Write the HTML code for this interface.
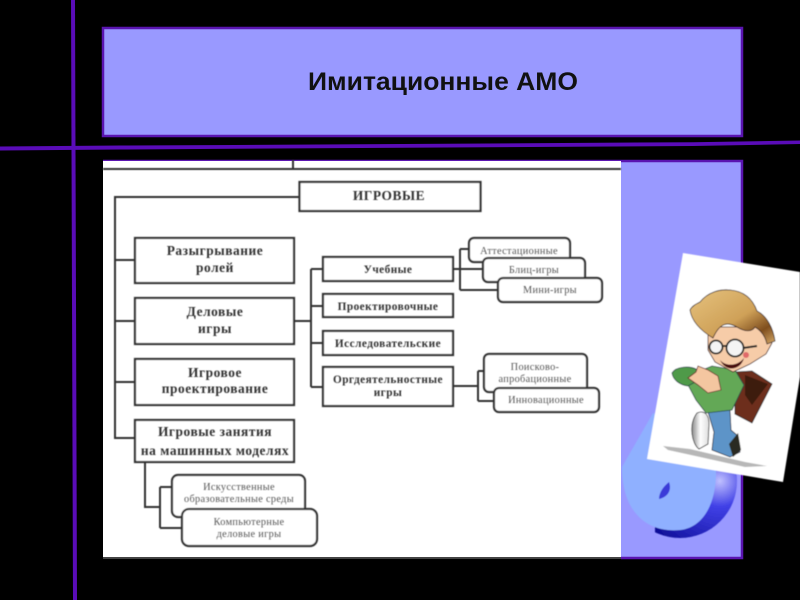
<!DOCTYPE html>
<html><head><meta charset="utf-8"><style>
html,body{margin:0;padding:0;background:#000;width:800px;height:600px;overflow:hidden}
svg{display:block}
.b{font:bold 13.400px "Liberation Serif","DejaVu Serif",serif;fill:#333;text-anchor:middle;letter-spacing:.55px}
.m{font:bold 11.300px "Liberation Serif","DejaVu Serif",serif;fill:#333;text-anchor:middle;letter-spacing:.45px}
.r{font:10.300px "Liberation Serif","DejaVu Serif",serif;fill:#555;text-anchor:middle;letter-spacing:.33px}
</style></head><body>
<svg width="800" height="600" viewBox="0 0 800 600" xmlns="http://www.w3.org/2000/svg">
<defs>
<linearGradient id="hair" x1="0" y1="0" x2="1" y2="1"><stop offset="0" stop-color="#e6c27e"/><stop offset=".55" stop-color="#cfa158"/><stop offset=".8" stop-color="#7f4e1e"/><stop offset="1" stop-color="#d6aa68"/></linearGradient>
<radialGradient id="blue" cx=".85" cy=".5" r=".75"><stop offset="0" stop-color="#c0c0ff"/><stop offset=".3" stop-color="#4040e6"/><stop offset="1" stop-color="#0a0a90"/></radialGradient>
<linearGradient id="shoe" x1="0" y1="0" x2="1" y2="0"><stop offset="0" stop-color="#888"/><stop offset=".5" stop-color="#fff"/><stop offset="1" stop-color="#ddd"/></linearGradient>
<filter id="bl" x="-5%" y="-5%" width="110%" height="110%"><feGaussianBlur stdDeviation=".45"/></filter>
<clipPath id="dk"><rect x="655" y="420" width="100" height="130"/></clipPath>
</defs>
<rect width="800" height="600" fill="#000"/>
<rect x="103" y="28" width="639" height="108" fill="#9999ff" stroke="#5a14b0" stroke-width="2.5"/>
<text x="443" y="90" font-family="Liberation Sans, sans-serif" font-weight="bold" font-size="25" text-anchor="middle" fill="#111" textLength="270" lengthAdjust="spacingAndGlyphs">Имитационные АМО</text>
<path d="M103 161H742V558H621V161" fill="#9999ff"/>
<path d="M103 161H742V558H621" fill="none" stroke="#5a14b0" stroke-width="2.500"/>
<rect x="103" y="161" width="518" height="397" fill="#fff"/>
<rect x="103" y="557" width="518" height="2" fill="#444"/>
<polygon points="0,146.500 120,145.500 235,145 693,142.200 800,140.500 800,144 693,146 235,148.800 120,149.500 0,150.500" fill="#5a0cb8"/>
<polygon points="71,0 75,0 76,300 77,600 73,600 72,300" fill="#5a0cb8"/>
<g filter="url(#bl)" fill="none" stroke="#333" stroke-width="2">
<path d="M103 169H621M293 160V169M299 197H115V438H135M115 260H135M115 321H135M115 382H135"/>
<path d="M294 321H311M311 269V387M311 269H323M311 306H323M311 343H323M311 387H323"/>
<path d="M453 269H483M460 249V290M460 249H469M460 290H498M453 386H478M478 371V401M478 371H484M478 401H494"/>
<path d="M145 462V507H160M160 487V528M160 487H172M160 528H182"/>
<g fill="#fff" stroke-width="2.200">
<rect x="299.500" y="182" width="181" height="29"/>
<rect x="135" y="238" width="159" height="45"/>
<rect x="135" y="298" width="159" height="46"/>
<rect x="135" y="359" width="159" height="46"/>
<rect x="135" y="420" width="159" height="42"/>
<rect x="323" y="257" width="130" height="24"/>
<rect x="323" y="294" width="130" height="23"/>
<rect x="323" y="331" width="130" height="24"/>
<rect x="323" y="367" width="130" height="39"/>
<rect x="469" y="238" width="101" height="24" rx="5"/>
<rect x="483" y="258" width="102" height="24" rx="5"/>
<rect x="498" y="278" width="104" height="24" rx="5"/>
<rect x="484" y="354" width="103" height="38" rx="5"/>
<rect x="494" y="388" width="105" height="24" rx="5"/>
<rect x="172" y="475" width="133" height="42" rx="6"/>
<rect x="182" y="509" width="135" height="37" rx="7"/>
</g>
</g>
<g filter="url(#bl)">
<text class="b" x="389" y="200">ИГРОВЫЕ</text>
<text class="b" x="215" y="255">Разыгрывание</text>
<text class="b" x="215" y="272">ролей</text>
<text class="b" x="215" y="316">Деловые</text>
<text class="b" x="215" y="333">игры</text>
<text class="b" x="215" y="377">Игровое</text>
<text class="b" x="215" y="393">проектирование</text>
<text class="b" x="215" y="436">Игровые занятия</text>
<text class="b" x="215" y="455">на машинных моделях</text>
<text class="m" x="388" y="273">Учебные</text>
<text class="m" x="388" y="310">Проектировочные</text>
<text class="m" x="388" y="347">Исследовательские</text>
<text class="m" x="388" y="383">Оргдеятельностные</text>
<text class="m" x="388" y="396">игры</text>
<text class="r" x="519" y="254">Аттестационные</text>
<text class="r" x="534" y="273">Блиц-игры</text>
<text class="r" x="550" y="293">Мини-игры</text>
<text class="r" x="535" y="370">Поисково-</text>
<text class="r" x="535" y="382">апробационные</text>
<text class="r" x="546" y="403">Инновационные</text>
<text class="r" x="239" y="490">Искусственные</text>
<text class="r" x="239" y="502">образовательные среды</text>
<text class="r" x="249" y="525">Компьютерные</text>
<text class="r" x="249" y="537">деловые игры</text>
</g>
<g filter="url(#bl)">
<circle cx="680" cy="481" r="57" fill="url(#blue)" clip-path="url(#dk)"/>
<path d="M653 413L622 467C622 515 650 533 680 530C702 528 716 505 716 473L716 440Z" fill="#8fb0ff"/>
<path d="M669 482C672 490 668 497 659 499C659 492 664 486 669 482Z" fill="#3a3ad8"/>
<polygon points="683,253 800,272 800,377 783,482 647,459" fill="#fff"/>
<path d="M663 446L690 449L745 462L767 466L745 467L700 457L668 450Z" fill="#999" opacity=".7"/>
<path d="M735 372L752 371L772 384L752 423L735 414Z" fill="#6d2f1c" stroke="#222" stroke-width=".8"/>
<path d="M745 375L768 384L752 405L745 395Z" fill="#3e1a10"/>
<path d="M708 412L730 410L731 430L738 436L740 452L730 457L712 450L714 432Z" fill="#5d94c8" stroke="#223" stroke-width=".8"/>
<path d="M729 444L738 433L741 450L733 457Z" fill="#2a2a20"/>
<path d="M697 413C704 410 709 414 709 424L708 444L699 449C692 444 688 425 697 413Z" fill="url(#shoe)" stroke="#222" stroke-width=".8"/>
<path d="M690 375L712 366L735 370L744 385L732 410L706 413L696 400L688 385Z" fill="#63a857" stroke="#244" stroke-width=".8"/>
<path d="M672 373C676 366 690 366 696 369L699 380L688 386C680 385 673 380 672 373Z" fill="#4f9a4a" stroke="#244" stroke-width=".8"/>
<path d="M688 378L696 372L698 366L708 370L718 376L721 390L708 393L698 385Z" fill="#f4c6a0" stroke="#622" stroke-width=".8"/>
<path d="M708 327L757 327L772 343L766 354L750 364L733 372L715 362L708 350Z" fill="#f6cca8" stroke="#422" stroke-width=".8"/>
<path d="M700 302C708 292 720 289 730 290C742 291 752 297 757 311C767 316 773 328 775 341L767 344C765 335 760 330 755 327C752 332 745 332 737 327C728 322 720 322 713 338C703 332 692 323 690 310C692 306 696 304 700 302Z" fill="url(#hair)" stroke="#322" stroke-width=".8"/>
<g fill="#f4f4f4" stroke="#222" stroke-width="1.800"><circle cx="716" cy="347" r="6.500"/><circle cx="735" cy="348" r="8.500"/></g>
<path d="M743 348L757 346M722 346L727 346" stroke="#222" stroke-width="2"/>
<path d="M720 360C726 367 738 366 744 358C741 370 726 373 720 360Z" fill="#4a1010"/>
<circle cx="746" cy="355" r="3" fill="#e06a6a"/>
</g>
</svg>
</body></html>
